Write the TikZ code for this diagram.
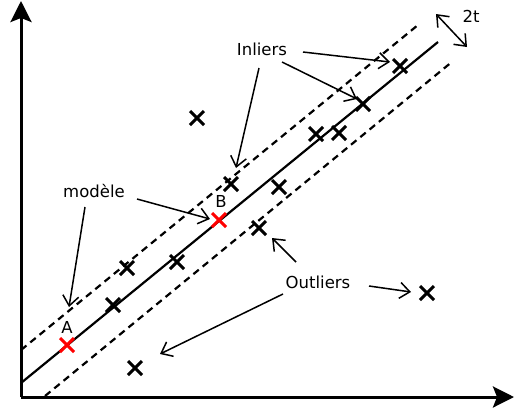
\documentclass[tikz,border=0pt]{standalone}
\usepackage{fontspec}
\setmainfont{DejaVu Sans}
\usetikzlibrary{arrows.meta,shapes.misc}
\definecolor{ptred}{RGB}{255,0,0}
\tikzset{
  pt/.style={cross out,draw=black,line width=3pt,minimum size=11pt,inner sep=0pt},
  redpt/.style={pt,draw=ptred},
  lbl/.style={font=\fontsize{16.5}{19}\selectfont,inner sep=0pt},
  ptr/.style={line width=1.5pt,-{Straight Barb[length=10pt,width=16pt,line width=1.5pt]}},
  ptr2/.style={line width=1.5pt,{Straight Barb[length=10pt,width=16pt,line width=1.5pt]}-{Straight Barb[length=10pt,width=16pt,line width=1.5pt]}},
  axis/.style={line width=3pt,-{Stealth[length=21pt,width=21pt,inset=4pt]}},
  fit/.style={line width=2.2pt},
  band/.style={line width=2.2pt,dash pattern=on 7pt off 5pt}
}
\begin{document}
\begin{tikzpicture}[x=1pt,y=-1pt]
\useasboundingbox (0,0) rectangle (514,410);
% axes
\coordinate (O) at (21,397);
\coordinate (ytop) at (21,1);
\coordinate (xend) at (514,397);
\draw[axis] (O) -- (ytop);
\draw[axis] (O) -- (xend);
% fitted line and band
\coordinate (m0) at (21,383);
\coordinate (m1) at (438,42);
\coordinate (u0) at (21,350);
\coordinate (u1) at (418,25);
\coordinate (l0) at (45,396);
\coordinate (l1) at (453,61);
\draw[fit] (m0) -- (m1);
\draw[band] (u0) -- (u1);
\draw[band] (l0) -- (l1);
% points
\node[pt] (p1) at (197,118) {};
\node[pt] (p2) at (400,66) {};
\node[pt] (p3) at (363,104) {};
\node[pt] (p4) at (316,134) {};
\node[pt] (p5) at (339,133) {};
\node[pt] (p6) at (231,184) {};
\node[pt] (p7) at (279,187) {};
\node[pt] (p8) at (259,228) {};
\node[pt] (p9) at (127,268) {};
\node[pt] (p10) at (177,262) {};
\node[pt] (p11) at (113,305) {};
\node[pt] (p12) at (427,293) {};
\node[pt] (p13) at (135,368) {};
\node[redpt] (pA) at (67,345) {};
\node[redpt] (pB) at (219,220) {};
% labels
\node[lbl] (tA) at (67,327) {A};
\node[lbl] (tB) at (221,201) {B};
\node[lbl] (inl) at (262,49) {Inliers};
\node[lbl] (mod) at (94,191) {modèle};
\node[lbl] (out) at (318,282) {Outliers};
\node[lbl] (tt) at (471,16) {2t};
% arrow ends
\coordinate (i1s) at (303,52);   \coordinate (i1e) at (390,62);
\coordinate (i2s) at (282,62);   \coordinate (i2e) at (357,99);
\coordinate (i3s) at (259,68);   \coordinate (i3e) at (236,168);
\coordinate (m1s) at (137,199);  \coordinate (m1e) at (210,219);
\coordinate (m2s) at (85,207);   \coordinate (m2e) at (69,307);
\coordinate (o1s) at (369,286);  \coordinate (o1e) at (411,292);
\coordinate (o2s) at (283,294);  \coordinate (o2e) at (160,354);
\coordinate (o3s) at (296,262);  \coordinate (o3e) at (272,238);
\coordinate (t1) at (436,14);    \coordinate (t2) at (467,47);
\draw[ptr] (i1s) -- (i1e);
\draw[ptr] (i2s) -- (i2e);
\draw[ptr] (i3s) -- (i3e);
\draw[ptr] (m1s) -- (m1e);
\draw[ptr] (m2s) -- (m2e);
\draw[ptr] (o1s) -- (o1e);
\draw[ptr] (o2s) -- (o2e);
\draw[ptr] (o3s) -- (o3e);
\draw[ptr2] (t1) -- (t2);
\end{tikzpicture}
\end{document}
